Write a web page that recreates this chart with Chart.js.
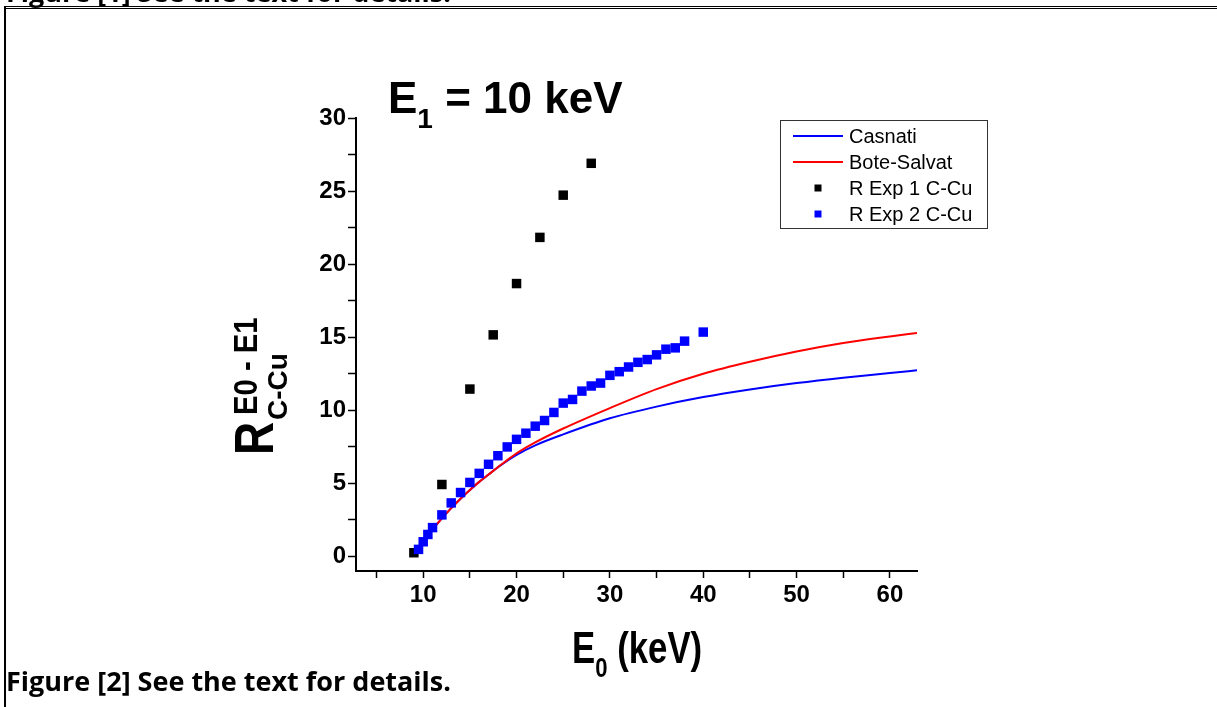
<!DOCTYPE html>
<html>
<head>
<meta charset="utf-8">
<script src="https://cdn.jsdelivr.net/npm/chart.js@4.4.1/dist/chart.umd.min.js"></script>
<style>
html,body{margin:0;padding:0;background:#fff;}
body{width:1217px;height:707px;position:relative;overflow:hidden;font-family:"Liberation Sans",Arial,sans-serif;}
#c{position:absolute;left:0;top:0;}
.t{position:absolute;white-space:nowrap;font-weight:bold;line-height:1;color:#000;}
.cap{position:absolute;white-space:nowrap;font-family:"Open Sans",Lato,sans-serif;font-weight:bold;font-size:27px;line-height:1;color:#000;}
.frame-left{position:absolute;left:4px;top:7px;width:2px;height:700px;background:#000;}
.frame-top1{position:absolute;left:4px;top:6px;width:1213px;height:1px;background:#000;}
.frame-top2{position:absolute;left:4px;top:8px;width:1213px;height:1px;background:#000;}
#ytitle{position:absolute;left:273px;top:455px;transform:rotate(-90deg);transform-origin:0 0;}
#ytitle span{position:absolute;white-space:nowrap;font-weight:bold;line-height:1;transform-origin:0 0;}
</style>
</head>
<body>
<canvas id="c" width="1217" height="707"></canvas>
<div class="cap" style="left:6px;top:-22px;">Figure [1] See the text for details.</div>
<div class="frame-top1"></div>
<div class="frame-top2"></div>
<div class="frame-left"></div>
<div class="t" style="left:388px;top:76px;font-size:44px;">E<span style="font-size:28px;position:relative;top:15px;">1</span> = 10 keV</div>
<div class="t" style="left:572px;top:626px;font-size:44px;transform:scaleX(0.79);transform-origin:0 0;">E<span style="font-size:28px;position:relative;top:14px;">0</span> (keV)</div>
<div id="ytitle">
  <span style="left:0;top:-47px;font-size:56px;transform:scaleX(0.82);">R</span>
  <span style="left:40px;top:-45px;font-size:34px;transform:scaleX(0.86);">E0 - E1</span>
  <span style="left:35px;top:-9px;font-size:28px;">C-Cu</span>
</div>
<div class="cap" style="left:6px;top:667px;">Figure [2] See the text for details.</div>
<script>
// curves (theory)
const curveE0 = [11, 12, 13, 14, 15, 16, 17, 18, 20, 22, 25, 30, 35, 40, 45, 50, 55, 60, 63];
const casnati = [1.85, 2.6, 3.3, 3.95, 4.55, 5.1, 5.6, 6.1, 6.95, 7.6, 8.35, 9.45, 10.25, 10.9, 11.42, 11.86, 12.23, 12.55, 12.74];
const boteSalvat = [1.85, 2.6, 3.3, 3.95, 4.55, 5.1, 5.6, 6.1, 7.05, 7.8, 8.75, 10.15, 11.45, 12.5, 13.32, 14.02, 14.6, 15.05, 15.3];

// experiments
const exp1E0 = [9, 12, 15, 17.5, 20, 22.5, 25, 28];
const exp1R = [0.25, 4.92, 11.45, 15.16, 18.67, 21.83, 24.72, 26.9];
const exp2E0 = [9.5, 10, 10.5, 11, 12, 13, 14, 15, 16, 17, 18, 19, 20, 21, 22, 23, 24, 25, 26, 27, 28, 29, 30, 31, 32, 33, 34, 35, 36, 37, 38, 40];
const exp2R = [0.48, 1.0, 1.5, 1.97, 2.84, 3.66, 4.37, 5.06, 5.68, 6.3, 6.89, 7.49, 8.01, 8.43, 8.91, 9.3, 9.85, 10.49, 10.74, 11.31, 11.66, 11.86, 12.39, 12.64, 12.96, 13.28, 13.47, 13.79, 14.18, 14.27, 14.73, 15.35];

const xTickLabels = [10, 20, 30, 40, 50, 60];
const yTickLabels = [0, 5, 10, 15, 20, 25, 30];

const pts = (xs, ys) => xs.map((x, i) => ({x: x, y: ys[i]}));

// legend drawn inside the plot, with a box
const legendBox = {
    id: "legendBox",
    afterDatasetsDraw(chart){
        const c = chart.ctx;
        c.save();
        c.fillStyle = "#fff";
        c.fillRect(780, 120, 207, 108);
        c.strokeStyle = "#333";
        c.lineWidth = 1;
        c.strokeRect(780.5, 120.5, 207, 108);
        c.font = '20px "Liberation Sans", Arial, sans-serif';
        c.textBaseline = "middle";
        chart.data.datasets.forEach((ds, i) => {
            const y = 136 + i * 26;
            if(ds.showLine){
                c.strokeStyle = ds.borderColor;
                c.lineWidth = 2;
                c.beginPath();
                c.moveTo(793, y);
                c.lineTo(843, y);
                c.stroke();
            }else{
                c.fillStyle = ds.backgroundColor;
                c.fillRect(814.5, y - 3.5, 7, 7);
            }
            c.fillStyle = "#000";
            c.fillText(ds.label, 849, y + 1);
        });
        c.restore();
    }
};

const tickFont = {family: '"Liberation Sans", Arial, sans-serif', size: 24, weight: "bold"};

const ctx = document.getElementById("c").getContext("2d");
new Chart(ctx, {
    type: "scatter",
    data: {
        datasets: [
            {label: "Casnati", data: pts(curveE0, casnati), showLine: true, borderColor: "#0000ff", borderWidth: 2, pointRadius: 0, cubicInterpolationMode: "monotone", order: 3},
            {label: "Bote-Salvat", data: pts(curveE0, boteSalvat), showLine: true, borderColor: "#ff0000", borderWidth: 2, pointRadius: 0, cubicInterpolationMode: "monotone", order: 2},
            {label: "R Exp 1 C-Cu", data: pts(exp1E0, exp1R), pointStyle: "rect", pointRadius: 6.7, backgroundColor: "#000000", borderWidth: 0, order: 1},
            {label: "R Exp 2 C-Cu", data: pts(exp2E0, exp2R), pointStyle: "rect", pointRadius: 6.7, backgroundColor: "#0000ff", borderWidth: 0, order: 0}
        ]
    },
    options: {
        responsive: false,
        animation: false,
        devicePixelRatio: 1,
        layout: {padding: {left: 0, top: 118, right: 300, bottom: 0}},
        plugins: {legend: {display: false}, tooltip: {enabled: false}},
        scales: {
            x: {
                type: "linear",
                min: 2.8,
                max: 62.9,
                afterFit: s => { s.height = 136; },
                ticks: {
                    stepSize: 5, includeBounds: false, autoSkip: false, maxRotation: 0, padding: 3,
                    color: "#000", font: tickFont,
                    callback: v => xTickLabels.includes(v) ? v : ""
                },
                grid: {drawOnChartArea: false, tickLength: 7, tickColor: "#000", tickWidth: 1.5},
                border: {color: "#000", width: 2}
            },
            y: {
                type: "linear",
                min: -1,
                max: 30,
                afterFit: s => { s.width = 356; },
                ticks: {
                    stepSize: 2.5, includeBounds: false, autoSkip: false, padding: 2,
                    color: "#000", font: tickFont,
                    callback: v => yTickLabels.includes(v) ? v : ""
                },
                grid: {drawOnChartArea: false, tickLength: 8, tickColor: "#000", tickWidth: 1.5},
                border: {color: "#000", width: 2}
            }
        }
    },
    plugins: [legendBox]
});
</script>
</body>
</html>
